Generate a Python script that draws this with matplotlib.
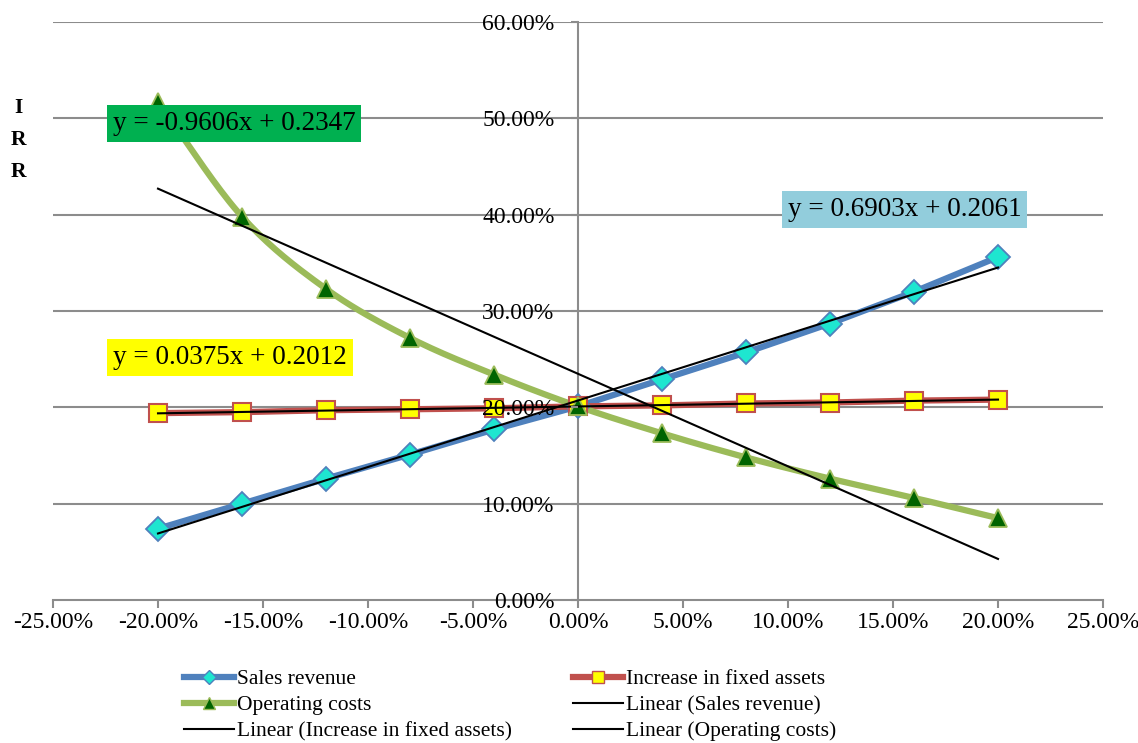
import numpy as np
import matplotlib
matplotlib.use("Agg")
import matplotlib.pyplot as plt
from matplotlib.ticker import FuncFormatter, MultipleLocator
from matplotlib.lines import Line2D

plt.rcParams['font.family'] = ['Liberation Serif', 'DejaVu Serif']

x_change = [-0.20, -0.16, -0.12, -0.08, -0.04, 0.0, 0.04, 0.08, 0.12, 0.16, 0.20]
sales_revenue = [0.074, 0.100, 0.126, 0.151, 0.177, 0.201, 0.229, 0.257, 0.287, 0.320, 0.356]
fixed_assets = [0.194, 0.195, 0.197, 0.198, 0.199, 0.201, 0.202, 0.204, 0.205, 0.207, 0.208]
operating_costs = [0.517, 0.398, 0.323, 0.272, 0.234, 0.201, 0.173, 0.148, 0.126, 0.106, 0.085]

series_names = ["Sales revenue", "Increase in fixed assets", "Operating costs"]
equations = ["y = 0.6903x + 0.2061", "y = 0.0375x + 0.2012", "y = -0.9606x + 0.2347"]
y_ticks = [0.0, 0.1, 0.2, 0.3, 0.4, 0.5, 0.6]


def catmull_rom(xs, ys, n=20):
    xs = np.asarray(xs, float); ys = np.asarray(ys, float)
    P = np.column_stack([xs, ys])
    P = np.vstack([2 * P[0] - P[1], P, 2 * P[-1] - P[-2]])
    out = []
    for i in range(1, len(P) - 2):
        p0, p1, p2, p3 = P[i - 1], P[i], P[i + 1], P[i + 2]
        t = np.linspace(0, 1, n, endpoint=False)[:, None]
        seg = 0.5 * ((2 * p1) + (-p0 + p2) * t + (2 * p0 - 5 * p1 + 4 * p2 - p3) * t ** 2
                     + (-p0 + 3 * p1 - 3 * p2 + p3) * t ** 3)
        out.append(seg)
    out.append(P[-2][None, :])
    out = np.vstack(out)
    return out[:, 0], out[:, 1]


fig = plt.figure(figsize=(11.38, 7.43), dpi=100)
ax = fig.add_axes([53/1138, 1-600/743, (1103-53)/1138, (600-22)/743])

x = np.array(x_change)

# gridlines (behind data)
for yv in y_ticks[1:]:
    ax.axhline(yv, color='#8C8C8C', lw=1.5, zorder=1)

# series
ax.plot(x, sales_revenue, color='#4F81BD', lw=4.5, zorder=3, solid_capstyle='round')
ax.plot(x, sales_revenue, ls='none', marker='D', ms=12, mfc='#1EE6D0', mec='#4F81BD', mew=1.3, zorder=4)
ax.plot(x, fixed_assets, color='#C0504D', lw=4.5, zorder=3, solid_capstyle='round')
ax.plot(x, fixed_assets, ls='none', marker='s', ms=13.5, mfc='#FFFF00', mec='#C0504D', mew=1.5, zorder=4)
sx, sy = catmull_rom(x, operating_costs)
ax.plot(sx, sy, color='#9BBB59', lw=4.5, zorder=3, solid_capstyle='round')
ax.plot(x, operating_costs, ls='none', marker='^', ms=13, mfc='#006400', mec='#9BBB59', mew=1.3, zorder=4)

# linear trendlines
for ys in (sales_revenue, fixed_assets, operating_costs):
    k, b = np.polyfit(x, ys, 1)
    xx = np.array([x.min(), x.max()])
    ax.plot(xx, k * xx + b, color='black', lw=1.5, zorder=5)

ax.set_xlim(-0.25, 0.25)
ax.set_ylim(0, 0.60)
ax.xaxis.set_major_locator(MultipleLocator(0.05))
ax.set_yticks(y_ticks)
pct = FuncFormatter(lambda v, p: f"{v*100:.2f}%")
ax.xaxis.set_major_formatter(pct)
ax.yaxis.set_major_formatter(pct)

ax.spines['left'].set_position(('data', 0))
ax.spines['bottom'].set_position(('data', 0))
ax.spines['top'].set_visible(False)
ax.spines['right'].set_visible(False)
for s in ('left', 'bottom'):
    ax.spines[s].set_color('#8C8C8C')
    ax.spines[s].set_linewidth(1.5)
    ax.spines[s].set_zorder(2)
ax.tick_params(axis='both', colors='#8C8C8C', labelcolor='black', labelsize=17, width=1.5)
ax.tick_params(axis='y', length=5, pad=12)
ax.tick_params(axis='x', length=6, pad=3)
ax.yaxis.set_zorder(6)

# y label
fig.text(18/1138, 1-108/743, "I", ha='center', va='center', fontsize=15.5, fontweight='bold')
fig.text(18/1138, 1-140/743, "R", ha='center', va='center', fontsize=15.5, fontweight='bold')
fig.text(18/1138, 1-172/743, "R", ha='center', va='center', fontsize=15.5, fontweight='bold')

# equation labels
eq_style = dict(fontsize=19.5, ha='left', va='center', zorder=7)
ax.text(-0.2215, 0.495, equations[2], **eq_style,
        bbox=dict(boxstyle='square,pad=0.22', fc='#00B050', ec='none'))
ax.text(0.0998, 0.405, equations[0], **eq_style,
        bbox=dict(boxstyle='square,pad=0.22', fc='#92CDDC', ec='none'))
ax.text(-0.2215, 0.252, equations[1], **eq_style,
        bbox=dict(boxstyle='square,pad=0.22', fc='#FFFF00', ec='none'))

# legend
handles = [
    Line2D([], [], color='#4F81BD', lw=4.5, marker='D', ms=7, mfc='#1EE6D0', mec='#4F81BD'),
    Line2D([], [], color='#9BBB59', lw=4.5, marker='^', ms=8, mfc='#006400', mec='#9BBB59'),
    Line2D([], [], color='black', lw=1.5),
    Line2D([], [], color='#C0504D', lw=4.5, marker='s', ms=8, mfc='#FFFF00', mec='#C0504D'),
    Line2D([], [], color='black', lw=1.5),
    Line2D([], [], color='black', lw=1.5),
]
labels = [series_names[0], series_names[2], "Linear (" + series_names[1] + ")",
          series_names[1], "Linear (" + series_names[0] + ")", "Linear (" + series_names[2] + ")"]
fig.legend(handles, labels, loc='upper left', bbox_to_anchor=(184/1138, 1-669/743), ncol=2,
           frameon=False, fontsize=15.5, handlelength=2.3, handletextpad=0.15,
           columnspacing=2.85, labelspacing=0.28, borderpad=0, borderaxespad=0)

fig.savefig("out.png", dpi=100)
